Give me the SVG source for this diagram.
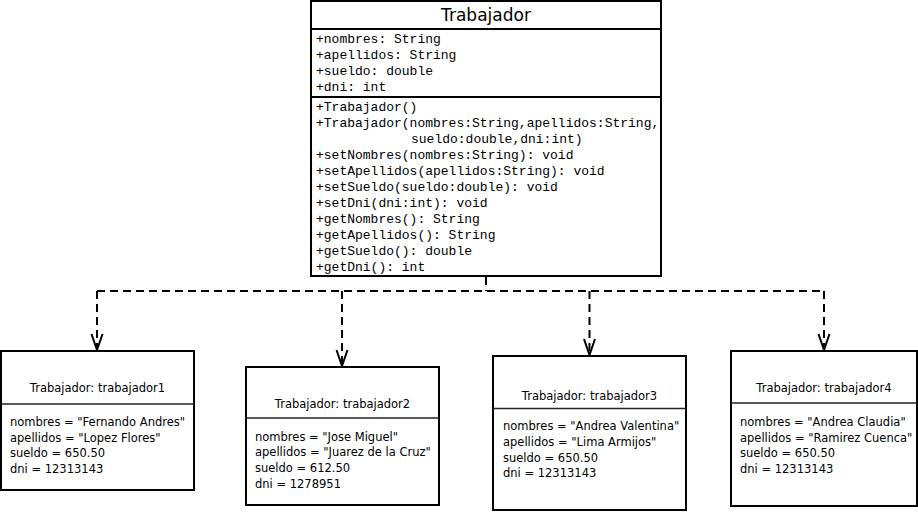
<svg xmlns="http://www.w3.org/2000/svg" width="918" height="512" viewBox="0 0 918 512">
<style>
.box{fill:#fff;stroke:#000;stroke-width:2}
.sep{stroke:#000;stroke-width:2}
.osep{stroke:#222;stroke-width:1.5}
.title{font-family:"DejaVu Sans",sans-serif;font-size:17px;text-anchor:middle;fill:#000}
.mono{font-family:"Liberation Mono","Courier New",monospace;font-size:13px;fill:#000}
.otitle{font-family:"DejaVu Sans",sans-serif;font-size:11.5px;text-anchor:middle;fill:#000}
.otext{font-family:"DejaVu Sans",sans-serif;font-size:11.5px;fill:#000}
.dash{fill:none;stroke:#000;stroke-width:2;stroke-dasharray:8 5}
</style>
<defs>
<marker id="open" markerUnits="userSpaceOnUse" orient="auto" refX="0" refY="0" markerWidth="20" markerHeight="20" overflow="visible">
<path d="M -16 -5.5 L 0 0 L -16 5.5" fill="none" stroke="#000" stroke-width="2" stroke-dasharray="none"/>
</marker>
</defs>
<rect width="918" height="512" fill="#fff"/>
<g id="connectors">
<path class="dash" d="M 486 277 L 486 291"/>
<path class="dash" d="M 97 291 L 824 291"/>
<path class="dash" d="M 97 291 L 97 350" marker-end="url(#open)"/>
<path class="dash" d="M 342 291 L 342 366" marker-end="url(#open)"/>
<path class="dash" d="M 589.5 291 L 589.5 355" marker-end="url(#open)"/>
<path class="dash" d="M 824 291 L 824 350" marker-end="url(#open)"/>
</g>
<g id="Trabajador">
<rect class="box" x="311" y="1" width="350" height="275"/>
<line class="sep" x1="311" y1="29" x2="661" y2="29"/>
<line class="sep" x1="311" y1="97" x2="661" y2="97"/>
<text class="title" x="486" y="21">Trabajador</text>
<text class="mono" x="316" y="43">+nombres: String</text>
<text class="mono" x="316" y="59">+apellidos: String</text>
<text class="mono" x="316" y="75">+sueldo: double</text>
<text class="mono" x="316" y="91">+dni: int</text>
<text class="mono" x="316" y="111">+Trabajador()</text>
<text class="mono" x="316" y="127">+Trabajador(nombres:String,apellidos:String,</text>
<text class="mono" x="411" y="143">sueldo:double,dni:int)</text>
<text class="mono" x="316" y="159">+setNombres(nombres:String): void</text>
<text class="mono" x="316" y="175">+setApellidos(apellidos:String): void</text>
<text class="mono" x="316" y="191">+setSueldo(sueldo:double): void</text>
<text class="mono" x="316" y="207">+setDni(dni:int): void</text>
<text class="mono" x="316" y="223">+getNombres(): String</text>
<text class="mono" x="316" y="239">+getApellidos(): String</text>
<text class="mono" x="316" y="255">+getSueldo(): double</text>
<text class="mono" x="316" y="271">+getDni(): int</text>
</g>
<g id="trabajador1">
<rect class="box" x="1" y="351" width="193" height="139"/>
<line class="osep" x1="1" y1="404" x2="194" y2="404"/>
<text class="otitle" x="97.5" y="392">Trabajador: trabajador1</text>
<text class="otext" x="10" y="426">nombres = "Fernando Andres"</text>
<text class="otext" x="10" y="441.7">apellidos = "Lopez Flores"</text>
<text class="otext" x="10" y="457.4">sueldo = 650.50</text>
<text class="otext" x="10" y="473.1">dni = 12313143</text>
</g>
<g id="trabajador2">
<rect class="box" x="246" y="367" width="193" height="138"/>
<line class="osep" x1="246" y1="418" x2="439" y2="418"/>
<text class="otitle" x="342.5" y="408">Trabajador: trabajador2</text>
<text class="otext" x="255" y="440.7">nombres = "Jose Miguel"</text>
<text class="otext" x="255" y="456.4">apellidos = "Juarez de la Cruz"</text>
<text class="otext" x="255" y="472.1">sueldo = 612.50</text>
<text class="otext" x="255" y="487.8">dni = 1278951</text>
</g>
<g id="trabajador3">
<rect class="box" x="493" y="356" width="193" height="154"/>
<line class="osep" x1="493" y1="408.5" x2="686" y2="408.5"/>
<text class="otitle" x="589.5" y="400">Trabajador: trabajador3</text>
<text class="otext" x="503" y="430">nombres = "Andrea Valentina"</text>
<text class="otext" x="503" y="445.8">apellidos = "Lima Armijos"</text>
<text class="otext" x="503" y="461.6">sueldo = 650.50</text>
<text class="otext" x="503" y="477.4">dni = 12313143</text>
</g>
<g id="trabajador4">
<rect class="box" x="731" y="351" width="186" height="155"/>
<line class="osep" x1="731" y1="403" x2="917" y2="403"/>
<text class="otitle" x="824" y="392">Trabajador: trabajador4</text>
<text class="otext" x="740" y="426">nombres = "Andrea Claudia"</text>
<text class="otext" x="740" y="441.7">apellidos = "Ramirez Cuenca"</text>
<text class="otext" x="740" y="457.4">sueldo = 650.50</text>
<text class="otext" x="740" y="473.1">dni = 12313143</text>
</g>
</svg>
